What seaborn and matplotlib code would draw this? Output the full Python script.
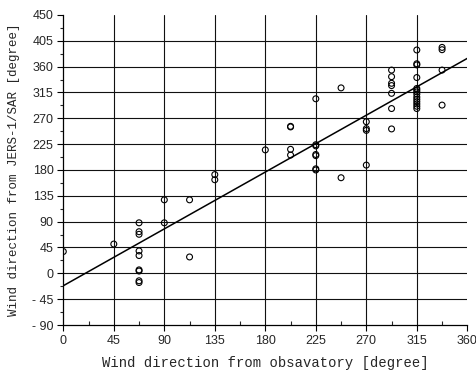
import matplotlib
matplotlib.use("Agg")
import matplotlib.pyplot as plt
import numpy as np
import pandas as pd
import seaborn as sns
from matplotlib.ticker import MultipleLocator

# ---- data ----
obs_dir = ([0.0, 45.0]
           + [67.5] * 9
           + [90.0] * 2
           + [112.5] * 2
           + [135.0] * 2
           + [180.0]
           + [202.5] * 4
           + [225.0] * 7
           + [247.5] * 2
           + [270.0] * 4
           + [292.5] * 7
           + [315.0] * 14
           + [337.5] * 4)
sar_dir = ([38, 51]
           + [88, 72.5, 68, 39, 31, 6, 4, -13, -16]
           + [128, 88]
           + [128, 28.5]
           + [172, 163]
           + [215]
           + [256, 255, 216, 206]
           + [304, 224, 222, 207, 205, 182, 180]
           + [323, 166.5]
           + [264, 252, 249, 188.5]
           + [354, 342.5, 331, 327, 313.5, 287, 251.5]
           + [389, 365, 363, 341, 322, 319, 316, 312, 307, 303, 299, 295, 291, 287]
           + [393.5, 389.5, 354, 293])
fit_slope = 1.10
fit_intercept = -21.6
fit_x = [0, 360]
x_ticks = [0, 45, 90, 135, 180, 225, 270, 315, 360]
y_ticks = [-90, -45, 0, 45, 90, 135, 180, 225, 270, 315, 360, 405, 450]
y_tick_labels = ["- 90", "- 45", "0", "45", "90", "135", "180", "225", "270",
                 "315", "360", "405", "450"]
x_label = "Wind direction from obsavatory [degree]"
y_label = "Wind direction from JERS-1/SAR [degree]"

df = pd.DataFrame({"obs": obs_dir, "sar": sar_dir})
fit_df = pd.DataFrame({"x": fit_x,
                       "y": [fit_intercept + fit_slope * v for v in fit_x]})

sns.set_style("ticks")
plt.rcParams["font.family"] = ["Liberation Sans", "DejaVu Sans"]

fig = plt.figure(figsize=(4.77, 3.74), dpi=100)
ax = fig.add_axes([0.1327, 0.131, 0.847, 0.829])

# grid lines (interior only)
for xv in x_ticks[1:-1]:
    ax.axvline(xv, color="#111111", lw=0.8, zorder=0)
for yv in y_ticks[1:-1]:
    ax.axhline(yv, color="#111111", lw=0.8, zorder=0)

sns.lineplot(data=fit_df, x="x", y="y", ax=ax, color="black", lw=1.1,
             zorder=3)
sns.scatterplot(data=df, x="obs", y="sar", ax=ax, marker="o", s=18,
                facecolor="none", edgecolor="black", linewidth=0.8,
                zorder=4)

ax.set_xlim(0, 360)
ax.set_ylim(-90, 450)
ax.set_xticks(x_ticks)
ax.set_xticklabels([str(v) for v in x_ticks], fontsize=9)
ax.set_yticks(y_ticks)
ax.set_yticklabels(y_tick_labels, fontsize=9)
ax.xaxis.set_minor_locator(MultipleLocator(22.5))
ax.yaxis.set_minor_locator(MultipleLocator(22.5))
ax.tick_params(axis="both", which="major", direction="out", length=4,
               width=0.8, color="black", pad=3)
ax.tick_params(axis="x", which="minor", direction="in", length=3, width=0.8)
ax.tick_params(axis="y", which="minor", direction="out", length=2.5,
               width=0.8)

for s in ["top", "right"]:
    ax.spines[s].set_visible(False)
for s in ["left", "bottom"]:
    ax.spines[s].set_color("black")
    ax.spines[s].set_linewidth(0.9)

ax.set_xlabel(x_label, family=["Liberation Mono", "DejaVu Sans Mono"],
              fontsize=10, labelpad=7)
ax.set_ylabel(y_label, family=["Liberation Mono", "DejaVu Sans Mono"],
              fontsize=9, labelpad=9)

fig.savefig("out.png", dpi=100)
